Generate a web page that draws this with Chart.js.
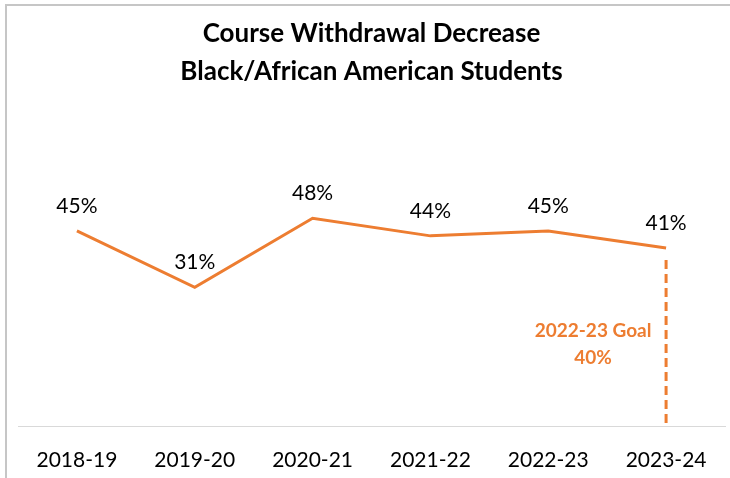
<!DOCTYPE html>
<html lang="en">
  <head>
    <meta charset="UTF-8" />
    <title>Course Withdrawal Decrease</title>
    <style>
      body {
        margin: 0;
        padding: 0;
        background: #fff;
        font-family: Lato, 'Open Sans', sans-serif;
        overflow: hidden;
      }
      .frame {
        position: absolute;
        left: 5px;
        top: 4px;
        width: 725px;
        height: 474px;
        overflow: hidden;
        border-top: 2px solid #c6c6c6;
        border-left: 2px solid #c6c6c6;
      }
      #chart {
        display: block;
      }
    </style>
  </head>
  <body>
    <div class="frame">
      <canvas id="chart" width="723" height="472"></canvas>
    </div>
    <script src="https://cdn.jsdelivr.net/npm/chart.js@4.4.0/dist/chart.umd.min.js"></script>
    <script>
      const years = ['2018-19', '2019-20', '2020-21', '2021-22', '2022-23', '2023-24'];
      const withdrawal = [44.8, 31.0, 47.9, 43.6, 44.8, 40.6]; // percent, shown rounded
      const goalText = ['2022-23 Goal', '40%'];
      const orange = '#ED7D31';

      // data labels above each point + dashed goal marker on the last point
      const extras = {
        id: 'extras',
        afterDatasetsDraw(chart) {
          const ctx = chart.ctx;
          const meta = chart.getDatasetMeta(0);
          ctx.save();
          ctx.font = '21px Lato, sans-serif';
          ctx.fillStyle = '#000';
          ctx.textAlign = 'center';
          ctx.textBaseline = 'middle';
          meta.data.forEach((pt, i) => {
            ctx.fillText(Math.round(withdrawal[i]) + '%', pt.x, pt.y - 25);
          });

          const last = meta.data[meta.data.length - 1];
          const bottom = chart.chartArea.bottom;
          const top = last.y + 12;
          ctx.strokeStyle = orange;
          ctx.lineWidth = 3;
          ctx.setLineDash([9, 5]);
          ctx.beginPath();
          ctx.moveTo(last.x, top);
          ctx.lineTo(last.x, bottom);
          ctx.stroke();
          ctx.setLineDash([]);

          const mid = (top + bottom) / 2;
          ctx.font = 'bold 19px Lato, sans-serif';
          ctx.fillStyle = orange;
          ctx.fillText(goalText[0], last.x - 73, mid - 13);
          ctx.fillText(goalText[1], last.x - 73, mid + 14);
          ctx.restore();
        },
      };

      new Chart(document.getElementById('chart'), {
        type: 'line',
        data: {
          labels: years,
          datasets: [
            {
              data: withdrawal,
              borderColor: orange,
              borderWidth: 3,
              pointRadius: 0,
              tension: 0,
              fill: false,
            },
          ],
        },
        options: {
          responsive: false,
          animation: false,
          layout: { padding: { left: 11, right: 5, top: 0, bottom: -16 } },
          plugins: {
            legend: { display: false },
            tooltip: { enabled: false },
            title: {
              display: true,
              text: ['Course Withdrawal Decrease', 'Black/African American Students'],
              color: '#000',
              font: { family: 'Lato, sans-serif', size: 26, weight: 'bold', lineHeight: 1.48 },
              padding: { top: 8, bottom: 78 },
            },
          },
          scales: {
            x: {
              offset: true,
              grid: { display: false, drawTicks: false },
              border: { display: true, color: '#d9d9d9', width: 1 },
              ticks: { color: '#000', padding: 21, font: { family: 'Lato, sans-serif', size: 21 } },
            },
            y: {
              display: false,
              min: -3.2,
              max: 60,
            },
          },
        },
        plugins: [extras],
      });
    </script>
  </body>
</html>
